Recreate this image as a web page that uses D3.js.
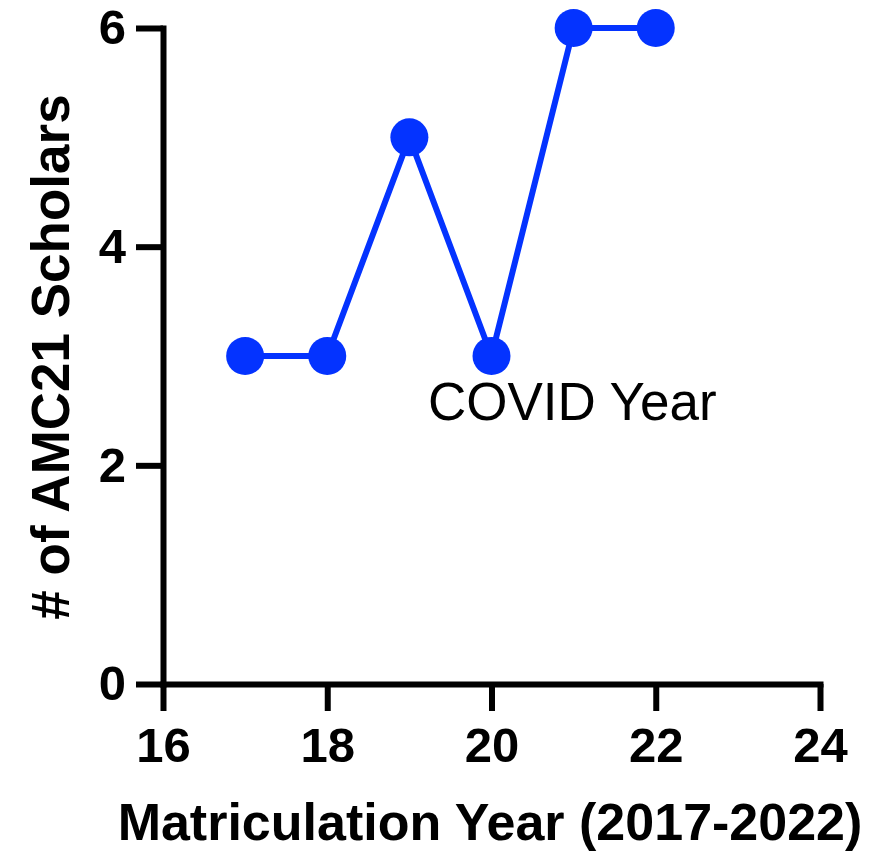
<!DOCTYPE html>
<html>
<head>
<meta charset="utf-8">
<script src="https://cdn.jsdelivr.net/npm/d3@7"></script>
<style>
body { margin: 0; background: #fff; }
text { font-family: "Liberation Sans", Arial, sans-serif; }
</style>
</head>
<body>
<svg id="chart"></svg>
<script>
// data
const years = [17, 18, 19, 20, 21, 22];
const scholars = [3, 3, 5, 3, 6, 6];
const xTicks = [16, 18, 20, 22, 24];
const yTicks = [0, 2, 4, 6];
const note = "COVID Year";

const width = 894;
const height = 852;
const svg = d3.select('#chart')
.attr('width', width)
.attr('height', height);

const x = d3.scaleLinear().domain([16, 24]).range([163, 820]);
const y = d3.scaleLinear().domain([0, 6]).range([684, 28]);

// axes
const xAxis = svg.append('g')
.attr('transform', `translate(0,${y(0)})`)
.call(d3.axisBottom(x).tickValues(xTicks).tickFormat(d3.format('d')).tickSize(27).tickPadding(16).tickSizeOuter(0));

const yAxis = svg.append('g')
.attr('transform', `translate(${x(16)},0)`)
.call(d3.axisLeft(y).tickValues(yTicks).tickFormat(d3.format('d')).tickSize(27).tickPadding(10).tickSizeOuter(0));

[xAxis, yAxis].forEach(a => {
a.select('.domain').attr('stroke', '#000').attr('stroke-width', 6).attr('stroke-linecap', 'square');
a.selectAll('.tick line').attr('stroke', '#000').attr('stroke-width', 6);
a.selectAll('.tick text')
.attr('fill', '#000')
.style('font-size', '49px')
.style('font-weight', 'bold')
.style('font-family', '"Liberation Sans", Arial, sans-serif');
});

// axis titles
svg.append('text')
.attr('x', 490)
.attr('y', 840)
.attr('text-anchor', 'middle')
.style('font-size', '52px')
.style('font-weight', 'bold')
.text('Matriculation Year (2017-2022)');

svg.append('text')
.attr('transform', 'translate(69,357) rotate(-90)')
.attr('text-anchor', 'middle')
.style('font-size', '53px')
.style('font-weight', 'bold')
.text('# of AMC21 Scholars');

// line + markers
const pts = years.map((d, i) => [d, scholars[i]]);
svg.append('path')
.datum(pts)
.attr('fill', 'none')
.attr('stroke', '#0433FF')
.attr('stroke-width', 6)
.attr('d', d3.line().x(d => x(d[0])).y(d => y(d[1])));

svg.selectAll('circle.pt')
.data(pts)
.enter()
.append('circle')
.attr('class', 'pt')
.attr('cx', d => x(d[0]))
.attr('cy', d => y(d[1]))
.attr('r', 19)
.attr('fill', '#0433FF');

// annotation
svg.append('text')
.attr('x', 428)
.attr('y', 420)
.style('font-size', '53px')
.attr('fill', '#000')
.text(note);
</script>
</body>
</html>
